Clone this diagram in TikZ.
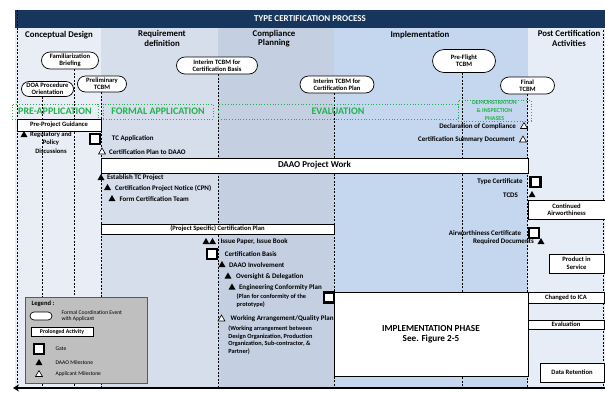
\documentclass[tikz,border=0pt]{standalone}
\usepackage{fontspec}
\setmainfont{Carlito}
\usetikzlibrary{positioning,shapes.geometric,shapes.misc,arrows.meta}
\definecolor{navy}{RGB}{23,54,93}
\definecolor{colA}{RGB}{232,237,246}
\definecolor{colB}{RGB}{214,222,236}
\definecolor{colC}{RGB}{196,208,226}
\definecolor{colD}{RGB}{197,215,239}
\definecolor{colE}{RGB}{231,237,247}
\definecolor{phase}{RGB}{34,177,76}

\begin{document}
\begin{tikzpicture}[x=1pt, y=-1pt, >=Stealth,
    font=\bfseries\fontsize{7}{8}\selectfont,
    meet/.style={rounded rectangle, draw, line width=0.7pt, fill=white, align=center, inner sep=0.5pt, font=\bfseries\fontsize{6.6}{7.4}\selectfont},
    activity/.style={draw, line width=0.6pt, fill=white, align=center, inner sep=1pt, font=\bfseries\fontsize{6.6}{7.6}\selectfont},
    gate/.style={draw, line width=2.8pt, fill=white, minimum size=10pt, inner sep=0pt},
    daao/.style={regular polygon, regular polygon sides=3, fill=black, minimum size=8pt, inner sep=0pt},
    appl/.style={daao, draw=black, fill=white, line width=0.6pt},
    phasebox/.style={draw=phase, dotted, line width=0.8pt, text=phase, align=center, inner sep=0pt, font=\bfseries\fontsize{10}{10}\selectfont},
    vline/.style={line width=0.6pt, dash pattern=on 2pt off 1.5pt},
    head/.style={align=center, font=\bfseries\fontsize{8.8}{9.5}\selectfont},
    small/.style={align=left, font=\bfseries\fontsize{6.3}{7.6}\selectfont},
    lgtext/.style={align=left, font=\fontsize{5.6}{6.6}\selectfont},
  ]
  \useasboundingbox (0,0) rectangle (605,392);

  % Spalten
  \fill[colA] (15,28) rectangle (101,388);
  \fill[colB] (101,28) rectangle (218,388);
  \fill[colC] (218,28) rectangle (334,388);
  \fill[colD] (334,28) rectangle (528,388);
  \fill[colE] (528,28) rectangle (605,388);
  \node[fill=navy, text=white, minimum width=590pt, minimum height=18pt, font=\bfseries\fontsize{9}{10}\selectfont] (title) at (310,19) {TYPE CERTIFICATION PROCESS};
  \draw[vline] (17,10) -- (17,388);
  \draw[vline] (603,30) -- (603,388);

  % Spaltenkoepfe
  \node[head] (hconcept) at (59,35) {Conceptual Design};
  \node[head] (hreq) at (162,38.5) {Requirement\\definition};
  \node[head] (hcomp) at (274,38.5) {Compliance\\Planning};
  \node[head] (himpl) at (420,35) {Implementation};
  \node[head] (hpost) at (569,38.5) {Post Certification\\Activities};

  % TCBM-Termine
  \node[meet, minimum width=58pt, minimum height=17pt] (fam) at (70,60.5) {Familiarization\\Briefing};
  \node[meet, minimum width=53pt, minimum height=15pt] (doa) at (47.5,89) {DOA Procedure\\Orientation};
  \node[meet, minimum width=50pt, minimum height=16pt] (prelim) at (102,84) {Preliminary\\TCBM};
  \node[meet, minimum width=82pt, minimum height=17pt] (basis) at (217,65.5) {Interim TCBM for\\Certification Basis};
  \node[meet, minimum width=75pt, minimum height=17pt] (plan) at (337,84.5) {Interim TCBM for\\Certification Plan};
  \node[meet, minimum width=64pt, minimum height=23pt] (preflight) at (464,61) {Pre-Flight\\TCBM};
  \node[meet, minimum width=55pt, minimum height=17pt] (final) at (527.5,85.5) {Final\\TCBM};
  \coordinate (base) at (0,387);
  \foreach \o/\s in {fam/4,doa/-5.5,prelim/-1,basis/1,plan/-3,preflight/-2,final/0}
    \draw[vline] ([xshift=\s pt]\o.south) -- ([xshift=\s pt]\o.south |- base);

  % Phasen
  \node[phasebox, minimum width=86pt, minimum height=15pt] (pre) at (55,111.5) {PRE-APPLICATION};
  \node[phasebox, minimum width=110pt, minimum height=15pt] (formal) at (158,111.5) {FORMAL APPLICATION};
  \node[phasebox, minimum width=240pt, minimum height=15pt] (eval) at (338,111.5) {EVALUATION};
  \node[phasebox, minimum width=73pt, minimum height=21pt, font=\bfseries\fontsize{6}{7.8}\selectfont] (demo) at (494.5,110.5) {DEMONSTRATION\\\& INSPECTION\\PHASES};

  % laufende Taetigkeiten
  \node[activity, minimum width=84pt, minimum height=12pt] (guide) at (59,125) {Pre-Project Guidance};
  \node[activity, minimum width=427pt, minimum height=15pt, font=\bfseries\fontsize{9}{10}\selectfont] (work) at (314.5,165.5) {DAAO Project Work};
  \node[activity, minimum width=233pt, minimum height=10pt] (certplan) at (217.5,229) {(Project Specific) Certification Plan};
  \node[activity, minimum width=77pt, minimum height=19pt] (contair) at (566.5,209.5) {Continued\\Airworthiness};
  \node[activity, minimum width=55pt, minimum height=19pt] (service) at (576.5,263.5) {Product in\\Service};
  \node[activity, minimum width=76pt, minimum height=11pt] (ica) at (566,297.5) {Changed to ICA};
  \node[activity, minimum width=76pt, minimum height=9pt] (evalbox) at (566,324.5) {Evaluation};
  \node[activity, minimum width=64pt, minimum height=19pt] (retention) at (572,372.5) {Data Retention};
  \node[activity, minimum width=194pt, minimum height=84pt, font=\bfseries\fontsize{9.2}{10}\selectfont] (implbox) at (431,334) {IMPLEMENTATION PHASE\\See. Figure 2-5};

  % Meilensteine Vorphase / Antrag
  \node[daao] (regtri) at (24,135) {};
  \node[align=center, anchor=north west, inner sep=0pt, font=\bfseries\fontsize{6.6}{8.5}\selectfont] (reg) at (30,131.5) {Regulatory and\\Policy\\Discussions};
  \node[gate] (gapp) at (95,139) {};
  \node[right=7pt of gapp] (tcapp) {TC Application};
  \node[appl] (aplan) at (102,152) {};
  \node[right=1pt of aplan] (tplan) {Certification Plan to DAAO};
  \node[daao] (mest) at (101,178) {};
  \node[right=0pt of mest] (test) {Establish TC Project};
  \node[daao] (mcpn) at (107.5,188) {};
  \node[right=1.5pt of mcpn] (tcpn) {Certification Project Notice (CPN)};
  \node[daao] (mteam) at (112,199) {};
  \node[right=1.5pt of mteam] (tteam) {Form Certification Team};

  % Meilensteine Planung
  \node[daao] (missA) at (206,242) {};
  \node[daao] (missB) at (212.5,242) {};
  \node[right=2pt of missB] (tiss) {Issue Paper, Issue Book};
  \node[gate] (gbasis) at (212,254) {};
  \node[right=3pt of gbasis] (tbasis) {Certification Basis};
  \node[daao] (minv) at (222,265) {};
  \node[right=1pt of minv] (tinv) {DAAO Involvement};
  \node[daao] (mover) at (228,276.5) {};
  \node[right=2pt of mover] (tover) {Oversight \& Delegation};
  \node[daao] (mecp) at (232,287.5) {};
  \node[right=1pt of mecp] (tecp) {Engineering Conformity Plan};
  \node[small, anchor=north west, inner sep=0pt] (tecp2) at ([xshift=1pt]tecp.south west) {(Plan for conformity of the\\prototype)};
  \node[gate] (gimpl) at (329,297.5) {};
  \node[appl] (awork) at (221.5,319) {};
  \node[right=3pt of awork] (twork) {Working Arrangement/Quality Plan};
  \node[small, anchor=north west, inner sep=0pt] (twork2) at ([xshift=1pt]twork.south west) {(Working arrangement between\\Design Organization, Production\\Organization, Sub-contractor, \&\\Partner)};

  % Meilensteine Umsetzung
  \node[appl] (adoc) at (524,126.5) {};
  \node[left=2pt of adoc] (tdoc) {Declaration of Compliance};
  \node[appl] (acsd) at (523,140) {};
  \node[left=2pt of acsd] (tcsd) {Certification Summary Document};
  \node[gate] (gtc) at (535.5,182) {};
  \node[left=3pt of gtc] (ttc) {Type Certificate};
  \node[daao] (mtcds) at (532,195) {};
  \node[left=8pt of mtcds] (ttcds) {TCDS};
  \node[gate] (gair) at (534,233) {};
  \node[left=3pt of gair] (tair) {Airworthiness Certificate};
  \node[daao] (mreq) at (541,242) {};
  \node[left=1pt of mreq] (treq) {Required Documents};

  % Legende
  \node[draw=black!65, line width=0.8pt, fill=black!25, minimum width=122pt, minimum height=86pt] (legend) at (86,340) {};
  \node[anchor=west, font=\bfseries\fontsize{6.6}{7}\selectfont] (lgtitle) at (28,304) {Legend :};
  \node[meet, minimum width=23pt, minimum height=8pt] (lgmeet) at (41,316) {};
  \node[lgtext, anchor=west] (lgmeett) at (58,316) {Formal Coordination Event\\with Applicant};
  \node[activity, minimum width=62pt, minimum height=9pt, font=\bfseries\fontsize{5.8}{6}\selectfont] (lgact) at (62,332) {Prolonged Activity};
  \node[gate] (lggate) at (39,349) {};
  \node[lgtext, anchor=west] (lggatet) at (52,349) {Gate};
  \node[daao] (lgdaao) at (39,363) {};
  \node[lgtext, anchor=west] (lgdaaot) at (52,363) {DAAO Milestone};
  \node[appl] (lgappl) at (39,374.5) {};
  \node[lgtext, anchor=west] (lgapplt) at (52,374) {Applicant Milestone};

  % Zeitachse
  \coordinate (axisL) at (13,388);
  \coordinate (axisR) at (605,388);
  \draw[line width=2.5pt, {Stealth[length=6pt,width=7pt]}-] (axisL) -- (axisR);
\end{tikzpicture}
\end{document}
